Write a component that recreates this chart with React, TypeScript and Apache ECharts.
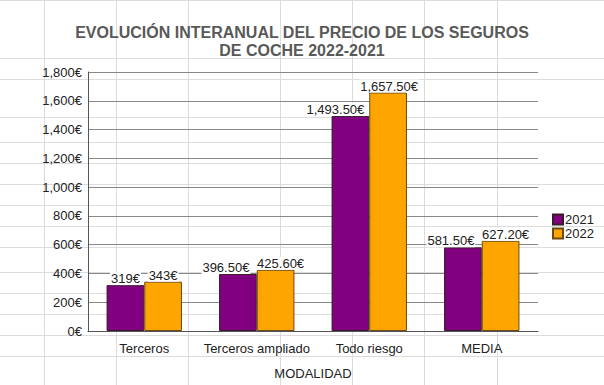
import React, { useEffect, useRef } from "react";
import * as echarts from "echarts";

const categories = ["Terceros", "Terceros ampliado", "Todo riesgo", "MEDIA"];
const seriesNames = ["2021", "2022"];
const values2021 = [319, 396.5, 1493.5, 581.5];
const values2022 = [343, 425.6, 1657.5, 627.2];
const colors = ["#800080", "#FFA500"];
const borderColors = ["#3a1a2a", "#6a4a10"];

// spreadsheet background grid (decorative)
const sheetRows = [0, 58, 79, 117, 142, 163, 184, 205, 226, 247, 272, 293, 314, 335, 356];
const sheetCols = [44, 116, 188, 280, 352, 424, 497];

// horizontal nudges of the value labels (to avoid overlaps, as in the original)
const labelShift = [
  [0, -12, -15, -12],
  [0, 5, 1, 5],
];

const fmtMoney = (v: number) =>
  Number.isInteger(v)
    ? v.toLocaleString("en-US") + "€"
    : v.toLocaleString("en-US", { minimumFractionDigits: 2, maximumFractionDigits: 2 }) + "€";

export default function App() {
  const ref = useRef<HTMLDivElement>(null);
  useEffect(() => {
    if (!ref.current) return;
    const chart = echarts.init(ref.current, null, { renderer: "svg" });
    const W = 604, H = 385;
    const bg: any[] = [];
    sheetRows.forEach((y) =>
      bg.push({ type: "line", z: -10, silent: true, shape: { x1: 0, y1: y + 0.5, x2: W, y2: y + 0.5 }, style: { stroke: "#dcdcdc", lineWidth: 1 } })
    );
    sheetCols.forEach((x) =>
      bg.push({ type: "line", z: -10, silent: true, shape: { x1: x + 0.5, y1: 0, x2: x + 0.5, y2: H }, style: { stroke: "#dcdcdc", lineWidth: 1 } })
    );
    const mkSeries = (name: string, data: number[], i: number) => ({
      name,
      type: "bar",
      data: data.map((v, j) => ({ value: v, label: { offset: [labelShift[i][j], 0] } })),
      barGap: "0%",
      barCategoryGap: "33%",
      itemStyle: { color: colors[i], borderColor: borderColors[i], borderWidth: 1 },
      label: {
        show: true,
        position: "top",
        distance: 0,
        formatter: (p: any) => fmtMoney(p.value),
        fontFamily: "Liberation Sans",
        fontSize: 13,
        color: "#222",
        backgroundColor: "#fff",
        padding: [0, 1],
      },
    });
    chart.setOption({
      animation: false,
      textStyle: { fontFamily: "Liberation Sans" },
      graphic: bg,
      title: {
        text: "EVOLUCIÓN INTERANUAL DEL PRECIO DE LOS SEGUROS\nDE COCHE 2022-2021",
        left: "center",
        top: 18,
        textStyle: { fontFamily: "Liberation Sans", fontSize: 16, fontWeight: "bold", color: "#595959", lineHeight: 18 },
      },
      legend: {
        orient: "vertical",
        left: 547,
        top: 208,
        itemWidth: 10,
        itemHeight: 10,
        itemGap: 1,
        icon: "rect",
        textStyle: { fontFamily: "Liberation Sans", fontSize: 13, lineHeight: 13, color: "#222", padding: [0, 0, 0, -3] },
        data: seriesNames,
      },
      grid: { left: 88, right: 66, top: 72, bottom: 50, containLabel: false },
      xAxis: {
        type: "category",
        data: categories,
        name: "MODALIDAD",
        nameLocation: "middle",
        nameGap: 36,
        nameTextStyle: { fontFamily: "Liberation Sans", fontSize: 13, color: "#222" },
        axisLine: { show: true, lineStyle: { color: "#555", width: 1 } },
        axisTick: { show: false },
        axisLabel: { interval: 0, fontFamily: "Liberation Sans", fontSize: 13, color: "#222", margin: 11 },
      },
      yAxis: {
        type: "value",
        min: 0,
        max: 1800,
        interval: 200,
        axisLine: { show: true, lineStyle: { color: "#555", width: 1 } },
        axisTick: { show: false },
        axisLabel: { fontFamily: "Liberation Sans", fontSize: 13, color: "#222", margin: 6, formatter: (v: number) => fmtMoney(v) },
        splitLine: { show: true, lineStyle: { color: "#888", width: 1 } },
      },
      series: [mkSeries(seriesNames[0], values2021, 0), mkSeries(seriesNames[1], values2022, 1)],
    });
    return () => chart.dispose();
  }, []);
  return <div ref={ref} style={{ width: 604, height: 385, position: "absolute", left: 0, top: 0 }} />;
}
